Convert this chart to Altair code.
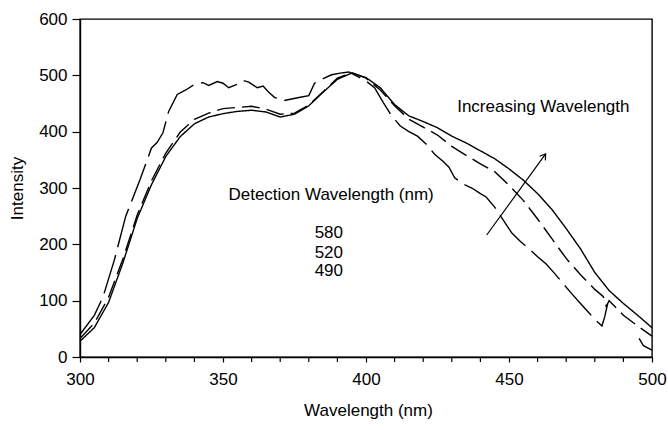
import altair as alt
import pandas as pd

# ---- data ----
# 580 nm detection (solid)
wl_580 = [300, 305, 310, 315, 320, 325, 330, 335, 340, 345, 350, 355, 360, 365, 370, 375,
          380, 385, 390, 395, 400, 405, 410, 415, 420, 425, 430, 435, 440, 445, 450, 455,
          460, 465, 470, 475, 480, 485, 490, 495, 500]
int_580 = [28, 52, 97, 167, 246, 306, 356, 391, 414, 426, 432, 436, 438, 435, 426, 431,
           446, 470, 493, 504, 496, 478, 448, 428, 418, 407, 392, 380, 366, 352, 334, 314,
           290, 262, 228, 192, 150, 118, 95, 74, 52]
# 520 nm detection (medium dash)
wl_520 = [300, 305, 310, 315, 320, 325, 330, 335, 340, 345, 350, 355, 360, 365, 370, 375,
          380, 385, 390, 395, 400, 405, 410, 415, 420, 425, 430, 435, 440, 445, 450, 455,
          460, 465, 470, 475, 480, 483, 484, 485, 490, 495, 500]
int_520 = [33, 60, 106, 174, 252, 313, 362, 399, 422, 433, 441, 443, 445, 440, 431, 433,
           447, 471, 495, 505, 495, 474, 446, 422, 408, 394, 374, 358, 343, 329, 305, 278,
           245, 210, 175, 146, 120, 107, 90, 100, 74, 55, 37]
# 490 nm detection (long dash), two pieces
wl_490 = [300, 305, 308, 312, 316, 321, 325, 327, 329, 331, 334, 337, 340, 343, 345, 348,
          350, 352, 355, 357, 359, 362, 364, 366, 368, 371, 374, 377, 380, 382, 385, 388,
          391, 394, 397, 400, 403, 406, 409, 412, 415, 418, 421, 424, 427, 429, 431, 434,
          437, 440, 442, 445, 448, 451, 454, 457, 460, 463, 466, 469, 472, 475, 478, 481,
          482.5, 483.5, 484.5,
          495.5, 497, 500]
int_490 = [40, 74, 106, 172, 250, 315, 371, 381, 398, 436, 466, 474, 484, 487, 482, 489,
           486, 478, 484, 491, 488, 478, 481, 470, 461, 455, 458, 461, 464, 486, 494, 501,
           504, 506, 498, 490, 478, 452, 428, 410, 400, 392, 378, 360, 347, 337, 318, 307,
           300, 290, 284, 266, 243, 220, 205, 192, 178, 165, 148, 130, 112, 95, 78, 62,
           55, 72, 95,
           33, 20, 12]
seg_490 = [1] * 67 + [2] * 3

series_names = ["580", "520", "490"]
dash_styles = [[1, 0], [18, 7], [40, 8]]

x_major = [300, 350, 400, 450, 500]
x_minor = [v for v in range(300, 501, 10) if v % 50 != 0]
y_major = [0, 100, 200, 300, 400, 500, 600]

rows = []
for w, v in zip(wl_580, int_580):
    rows.append({"wl": w, "I": v, "series": "580", "seg": "580-1"})
for w, v in zip(wl_520, int_520):
    rows.append({"wl": w, "I": v, "series": "520", "seg": "520-1"})
for w, v, s in zip(wl_490, int_490, seg_490):
    rows.append({"wl": w, "I": v, "series": "490", "seg": f"490-{s}"})
df = pd.DataFrame(rows)

# annotations
ann_text = ["Detection Wavelength (nm)", "580", "520", "490", "Increasing Wavelength"]
ann_x = [387.8, 387, 387, 387, 462]
ann_y = [287.6, 219.6, 185, 152.7, 444]
ann = pd.DataFrame({"t": ann_text, "x": ann_x, "y": ann_y})

arrow = pd.DataFrame({"x": [442.2], "y": [216.6], "x2": [462.8], "y2": [360.4]})
arrow_head = pd.DataFrame({"x": [462.8], "y": [360.4]})
minor_df = pd.DataFrame({"wl": x_minor})

FONT = "Liberation Sans"
H = 338

xscale = alt.Scale(domain=[300, 500], nice=False, zero=False)
yscale = alt.Scale(domain=[0, 600], nice=False)

lines = alt.Chart(df).mark_line(strokeWidth=1.4, color="black").encode(
    x=alt.X("wl:Q", scale=xscale, title="Wavelength (nm)",
            axis=alt.Axis(values=x_major, tickSize=5, labelPadding=9, grid=False,
                          labelFlush=False, labelOverlap=False,
                          titleX=288, titleY=53, titleBaseline="middle")),
    y=alt.Y("I:Q", scale=yscale, title="Intensity",
            axis=alt.Axis(values=y_major, tickSize=8, labelPadding=5,
                          labelOverlap=False, labelFlush=False,
                          grid=False, titleX=-63, titleY=169, titleBaseline="middle",
                          titleAngle=-90)),
    strokeDash=alt.StrokeDash("series:N", scale=alt.Scale(domain=series_names, range=dash_styles),
                              legend=None),
    detail="seg:N",
    order="wl:Q",
)

minor_ticks = alt.Chart(minor_df).mark_rule(color="black", strokeWidth=1.2).encode(
    x=alt.X("wl:Q", scale=xscale), y=alt.value(H), y2=alt.value(H + 5))

texts = alt.Chart(ann).mark_text(font=FONT, fontSize=17, color="black").encode(
    x=alt.X("x:Q", scale=xscale), y=alt.Y("y:Q", scale=yscale), text="t:N")

arrow_line = alt.Chart(arrow).mark_rule(color="black", strokeWidth=1.2).encode(
    x=alt.X("x:Q", scale=xscale), y=alt.Y("y:Q", scale=yscale), x2="x2:Q", y2="y2:Q")

head = alt.Chart(arrow_head).mark_point(
    shape="M -0.6 0.9 L 0 0 L 0.6 0.9", filled=False, color="black", strokeWidth=1.2,
    size=140, angle=36, opacity=1).encode(
    x=alt.X("x:Q", scale=xscale), y=alt.Y("y:Q", scale=yscale))

chart = alt.layer(lines, minor_ticks, arrow_line, head, texts).properties(
    width=572, height=H,
    autosize=alt.AutoSizeParams(type="none"),
    padding={"left": 80, "top": 19, "right": 16, "bottom": 73},
).configure(background="white").configure_view(
    stroke="black", strokeWidth=1.4
).configure_axis(
    domainColor="black", domainWidth=1.4, tickColor="black", tickWidth=1.2,
    labelFont=FONT, labelFontSize=17, labelColor="black",
    titleFont=FONT, titleFontSize=17, titleFontWeight="normal", titleColor="black",
)

chart.save("out.html", embed_options={"renderer": "svg", "actions": False})
